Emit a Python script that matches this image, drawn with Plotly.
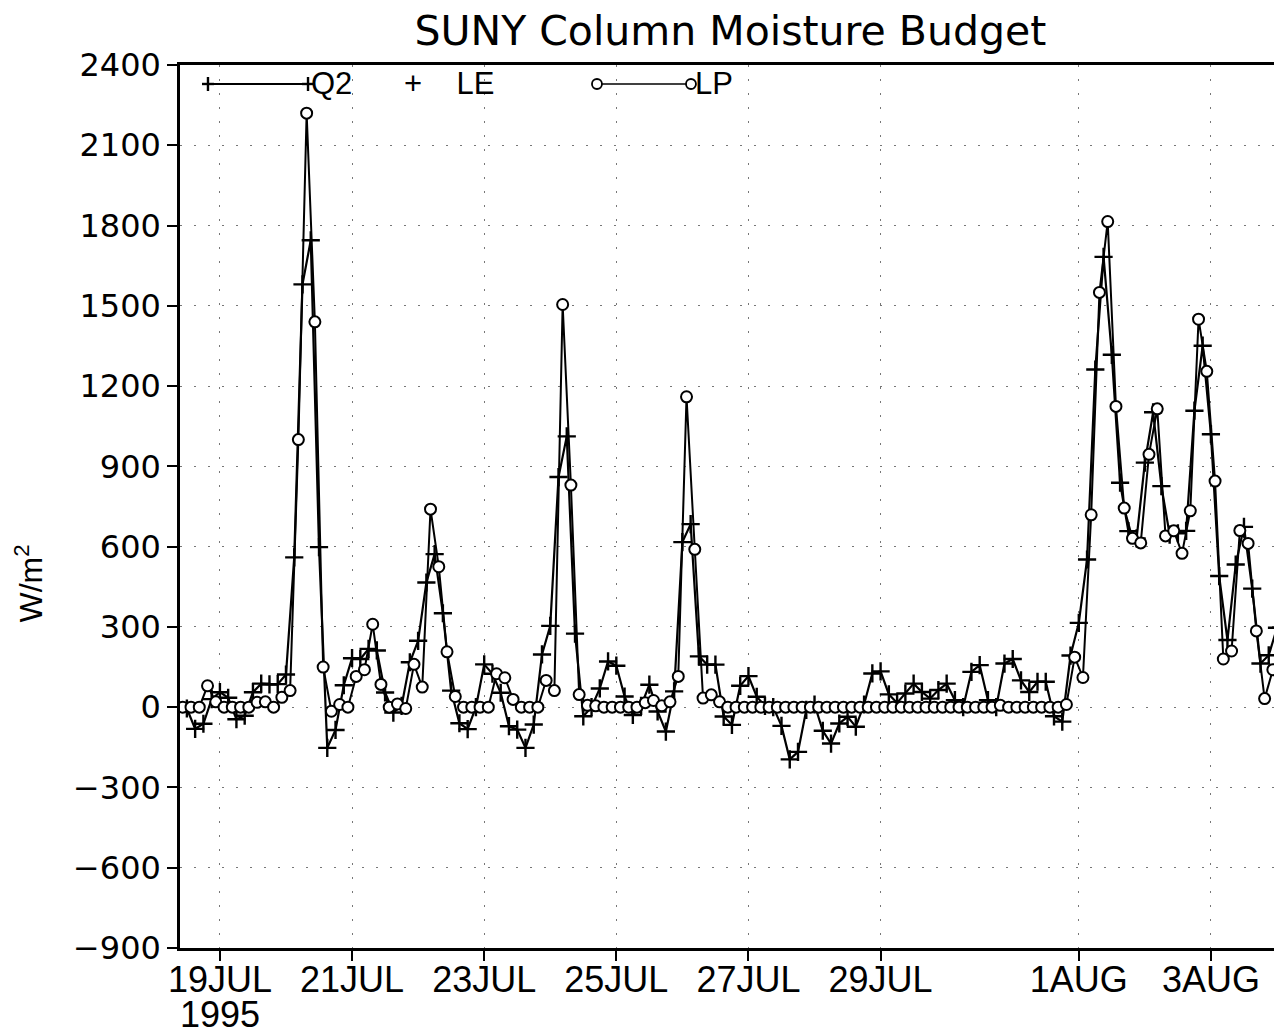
import pandas as pd
import plotly.graph_objects as go

# ---- data (3-hourly) ----
lp_start = "1995-07-18 10:30"
q2_start = "1995-07-18 12:00"

lp_values = [
    0, 0, 0, 80, 20, 0, 0, 0, 0, 18,
    20, 0, 37, 62, 1000, 2220, 1440, 150, -15, 10,
    0, 115, 140, 310, 85, 0, 12, -5, 160, 75,
    740, 525, 207, 40, 0, 0, 0, 0, 125, 110,
    29, 0, 0, 0, 100, 62, 1505, 830, 47, 7,
    5, 0, 0, 0, 0, 0, 17, 25, 5, 20,
    115, 1160, 590, 34, 46, 20, 0, 0, 0, 0,
    0, 0, 0, 0, 0, 0, 0, 0, 0, 0,
    0, 0, 0, 0, 0, 0, 0, 0, 0, 0,
    0, 0, 0, 0, 0, 0, 0, 0, 0, 7,
    0, 0, 0, 0, 0, 0, 0, 10, 187, 111,
    719, 1550, 1815, 1124, 744, 631, 614, 945, 1115, 640,
    659, 575, 734, 1450, 1255, 845, 180, 210, 660, 612,
    285, 32, 140,
]

q2le_values = [
    -5, -81, -62, 30, 56, 35, -45, -32, 56, 88,
    85, 86, 122, 560, 1580, 1745, 598, -152, -85, 82,
    183, 180, 218, 212, 55, -20, 5, 168, 248, 466,
    572, 351, 62, -60, -82, 0, 160, 125, 54, -71,
    -84, -152, -65, 197, 304, 860, 1012, 275, -34, 0,
    70, 171, 155, 40, -29, 5, 84, -16, -91, 59,
    617, 684, 190, 159, 159, -35, -66, 80, 116, 39,
    5, 0, -70, -195, -167, -10, 10, -88, -136, -61,
    -36, -73, 10, 126, 134, 48, 16, 51, 88, 57,
    32, 64, 88, 26, 0, 132, 157, 26, 0, 163,
    180, 100, 57, 95, 95, -34, -54, 193, 315, 552,
    1262, 1683, 1317, 839, 658, 631, 914, 1102, 826, 645,
    650, 659, 1108, 1351, 1020, 490, 251, 533, 674, 443,
    163, 194, 297,
]

tick_dates = ["1995-07-19", "1995-07-21", "1995-07-23", "1995-07-25",
              "1995-07-27", "1995-07-29", "1995-08-01", "1995-08-03"]
tick_labels = ["19JUL", "21JUL", "23JUL", "25JUL",
               "27JUL", "29JUL", "1AUG", "3AUG"]
year_label = "1995"
y_ticks = [-900, -600, -300, 0, 300, 600, 900, 1200, 1500, 1800, 2100, 2400]

lp_times = pd.date_range(lp_start, periods=len(lp_values), freq="3h")
q2_times = pd.date_range(q2_start, periods=len(q2le_values), freq="3h")

fig = go.Figure()
fig.add_trace(go.Scatter(
    x=q2_times, y=q2le_values, mode="lines+markers", name="Q2 + LE",
    line=dict(color="black", width=2.2),
    marker=dict(symbol="cross-thin", size=13, line=dict(color="black", width=2.4)),
    showlegend=False,
))
fig.add_trace(go.Scatter(
    x=lp_times, y=lp_values, mode="lines+markers", name="LP",
    line=dict(color="black", width=2),
    marker=dict(symbol="circle", size=11, color="white",
                line=dict(color="black", width=2)),
    showlegend=False,
))

# ---- custom legend (paper coordinates) ----
ly = 0.9785
shapes = []
shapes.append(dict(type="line", xref="paper", yref="paper",
                   x0=0.0255, x1=0.1167, y0=ly, y1=ly,
                   line=dict(color="black", width=2)))
for xa in (0.0255, 0.1167):
    shapes.append(dict(type="line", xref="paper", yref="paper",
                       xsizemode="pixel", ysizemode="pixel",
                       xanchor=xa, yanchor=ly, x0=-6, x1=6, y0=0, y1=0,
                       line=dict(color="black", width=2.4)))
    shapes.append(dict(type="line", xref="paper", yref="paper",
                       xsizemode="pixel", ysizemode="pixel",
                       xanchor=xa, yanchor=ly, x0=0, x1=0, y0=-7, y1=7,
                       line=dict(color="black", width=2.4)))
shapes.append(dict(type="line", xref="paper", yref="paper",
                   x0=0.3801, x1=0.4658, y0=ly, y1=ly,
                   line=dict(color="black", width=1.6)))
for xa in (0.3801, 0.4658):
    shapes.append(dict(type="circle", xref="paper", yref="paper",
                       xsizemode="pixel", ysizemode="pixel",
                       xanchor=xa, yanchor=ly, x0=-5, x1=5, y0=-5, y1=5,
                       fillcolor="white", line=dict(color="black", width=1.8)))

legend_font = dict(family="Liberation Sans, Arial, sans-serif", size=31, color="black")
annotations = [
    dict(text="Q2&nbsp;&nbsp;&nbsp;&nbsp;&nbsp;&nbsp;+&nbsp;&nbsp;&nbsp;&nbsp;LE",
         xref="paper", yref="paper", x=0.1176, y=ly,
         xanchor="left", yanchor="middle", showarrow=False, font=legend_font),
    dict(text="LP", xref="paper", yref="paper", x=0.4676, y=ly,
         xanchor="left", yanchor="middle", showarrow=False, font=legend_font),
    dict(text=year_label, xref="x", yref="paper", x=tick_dates[0], y=-0.0755,
         xanchor="center", yanchor="middle", showarrow=False,
         font=dict(family="Liberation Sans, Arial, sans-serif", size=36, color="black")),
    dict(text="W/m<sup>2</sup>", xref="paper", yref="paper", x=-0.1375, y=0.413,
         xanchor="center", yanchor="middle", textangle=-90, showarrow=False,
         font=dict(family="Liberation Sans, Arial, sans-serif", size=32, color="black")),
]

# page body has an 8px margin: figure drawn at (8, 8) in the window
fig.update_layout(
    width=1274, height=1024,
    margin=dict(l=172, r=5, t=57, b=84, autoexpand=False),
    paper_bgcolor="white", plot_bgcolor="white",
    title=dict(text="SUNY Column Moisture Budget", x=0.567, xanchor="center",
               y=0.978, yanchor="middle", automargin=False,
               font=dict(family="DejaVu Sans, sans-serif", size=41, color="black")),
    shapes=shapes, annotations=annotations,
    showlegend=False,
)
fig.update_xaxes(
    type="date", range=["1995-07-18 09:30", "1995-08-04 00:00"],
    tickvals=tick_dates, ticktext=tick_labels, automargin=False,
    ticks="outside", ticklen=10, tickwidth=1.5, tickcolor="black",
    ticklabelstandoff=-12,
    showline=True, mirror=True, linecolor="black", linewidth=2.5,
    showgrid=True, gridcolor="#777777", gridwidth=1, griddash="2px,12px",
    tickfont=dict(family="Liberation Sans, Arial, sans-serif", size=36, color="black"),
    zeroline=False,
)
fig.update_yaxes(
    range=[-900, 2400], tickvals=y_ticks, automargin=False,
    ticks="outside", ticklen=10, tickwidth=1.5, tickcolor="black",
    showline=True, mirror=True, linecolor="black", linewidth=2.5,
    showgrid=True, gridcolor="#777777", gridwidth=1, griddash="2px,12px",
    tickfont=dict(family="DejaVu Sans, sans-serif", size=32, color="black"),
    zeroline=False,
)

fig.write_html("out.html")
